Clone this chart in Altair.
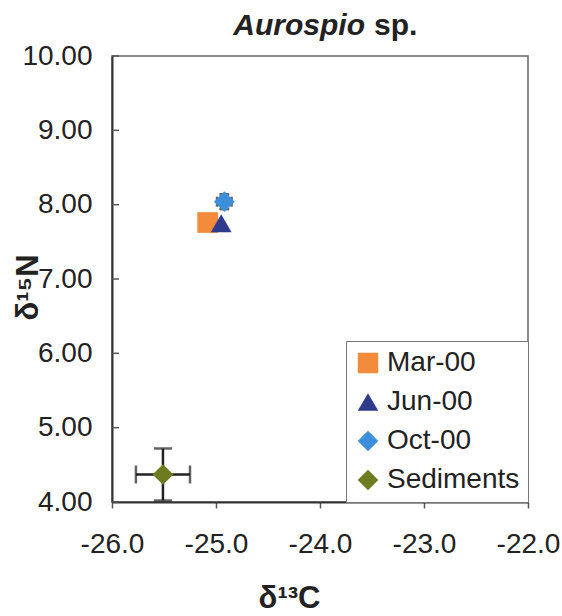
import altair as alt
import pandas as pd

# ---- data ----
series = ["Mar-00", "Jun-00", "Oct-00", "Sediments"]
d13c = [-25.08, -24.95, -24.92, -25.51]
d15n = [7.76, 7.75, 8.04, 4.37]
sd13c = [0.0, 0.0, 0.07, 0.26]
sd15n = [0.0, 0.0, 0.10, 0.35]
colors = ["#F28C3C", "#2E3A8C", "#3D8FD9", "#6E7B1F"]
shapes = ["square", "triangle-up", "diamond", "diamond"]
x_ticks = [-26.0, -25.0, -24.0, -23.0, -22.0]
y_ticks = [4.0, 5.0, 6.0, 7.0, 8.0, 9.0, 10.0]

FONT = "Liberation Sans, Arial, sans-serif"
INK = "#222222"

df = pd.DataFrame({"series": series, "c": d13c, "n": d15n, "sc": sd13c, "sn": sd15n})
err = df[df["sc"] > 0].copy()
err["c_lo"] = err["c"] - err["sc"]
err["c_hi"] = err["c"] + err["sc"]
err["n_lo"] = err["n"] - err["sn"]
err["n_hi"] = err["n"] + err["sn"]
err["cap"] = [10, 18]

xs = alt.Scale(domain=[-26, -22], nice=False, zero=False)
ys = alt.Scale(domain=[4, 10], nice=False, zero=False)

x_axis = alt.Axis(values=x_ticks, format=".1f", title="δ¹³C", grid=False,
                  labelExpr="replace(datum.label, '−', '-')",
                  labelFlush=False, labelOverlap=False,
                  labelFontSize=28, labelFont=FONT, labelColor=INK, labelPadding=22,
                  tickSize=6, tickColor="#555", tickWidth=1.5,
                  domainColor="#333", domainWidth=2,
                  titleFont=FONT, titleFontSize=31, titleFontWeight="bold", titleColor=INK,
                  titleX=177, titleY=105, titleBaseline="alphabetic", titleAlign="center")
y_axis = alt.Axis(values=y_ticks, format=".2f", title="δ¹⁵N", grid=False,
                  labelFlush=False, labelOverlap=False,
                  labelFontSize=28, labelFont=FONT, labelColor=INK, labelPadding=20,
                  ticks=False, domainColor="#333", domainWidth=2,
                  titleFont=FONT, titleFontSize=31, titleFontWeight="bold", titleColor=INK,
                  titleAngle=270, titleX=-68, titleY=231, titleBaseline="bottom",
                  titleAlign="center")

base = alt.Chart(df)

# inward y ticks
ytick_df = pd.DataFrame({"t": y_ticks})
ytick_layer = alt.Chart(ytick_df).mark_rule(color="#555", strokeWidth=1.5).encode(
    y=alt.Y("t:Q", scale=ys, axis=y_axis),
    x=alt.value(0), x2=alt.value(7),
)

eb = alt.Chart(err)
ebx = eb.mark_rule(color=INK, strokeWidth=2.5).encode(
    x=alt.X("c_lo:Q", scale=xs, axis=x_axis), x2="c_hi:Q", y=alt.Y("n:Q", scale=ys))
eby = eb.mark_rule(color=INK, strokeWidth=2.5).encode(
    x=alt.X("c:Q", scale=xs), y=alt.Y("n_lo:Q", scale=ys), y2="n_hi:Q")
size_enc = alt.Size("cap:Q", scale=None, legend=None)
cap_x_lo = eb.mark_tick(color=INK, orient="vertical", thickness=2.5).encode(
    x=alt.X("c_lo:Q", scale=xs), y=alt.Y("n:Q", scale=ys), size=size_enc)
cap_x_hi = eb.mark_tick(color=INK, orient="vertical", thickness=2.5).encode(
    x=alt.X("c_hi:Q", scale=xs), y=alt.Y("n:Q", scale=ys), size=size_enc)
cap_y_lo = eb.mark_tick(color=INK, orient="horizontal", thickness=2.5).encode(
    x=alt.X("c:Q", scale=xs), y=alt.Y("n_lo:Q", scale=ys), size=size_enc)
cap_y_hi = eb.mark_tick(color=INK, orient="horizontal", thickness=2.5).encode(
    x=alt.X("c:Q", scale=xs), y=alt.Y("n_hi:Q", scale=ys), size=size_enc)

legend = alt.Legend(title=None, orient="bottom-right", offset=0,
                    labelFontSize=28, labelFont=FONT, labelColor=INK,
                    symbolSize=420, symbolStrokeWidth=0, symbolType="square",
                    strokeColor="#777", fillColor="white", padding=8,
                    rowPadding=11, labelOffset=5)

points = base.mark_point(filled=True, opacity=1, size=430).encode(
    x=alt.X("c:Q", scale=xs),
    y=alt.Y("n:Q", scale=ys),
    color=alt.Color("series:N", scale=alt.Scale(domain=series, range=colors), legend=legend, sort=series),
    shape=alt.Shape("series:N", scale=alt.Scale(domain=series, range=shapes), legend=legend, sort=series),
    order=alt.Order("idx:Q"),
).transform_window(idx="row_number()")

title_df = pd.DataFrame({"a": ["Aurospio"], "b": ["sp."]})
t1 = alt.Chart(title_df).mark_text(font=FONT, fontSize=30, fontWeight="bold", fontStyle="italic",
                                   align="right", baseline="alphabetic", color=INK).encode(
    text="a:N", x=alt.value(253), y=alt.value(-21))
t2 = alt.Chart(title_df).mark_text(font=FONT, fontSize=30, fontWeight="bold", dx=9,
                                   align="left", baseline="alphabetic", color=INK).encode(
    text="b:N", x=alt.value(253), y=alt.value(-21))

chart = alt.layer(ytick_layer, ebx, eby, cap_x_lo, cap_x_hi, cap_y_lo, cap_y_hi, points, t1, t2).properties(
    width=416, height=446,
    autosize=alt.AutoSizeParams(type="none"),
    padding={"left": 112, "top": 56, "right": 34, "bottom": 114},
    background="white",
).configure_view(stroke="#666", strokeWidth=1.5)

chart.save("out.html", embed_options={"renderer": "svg", "actions": False})
